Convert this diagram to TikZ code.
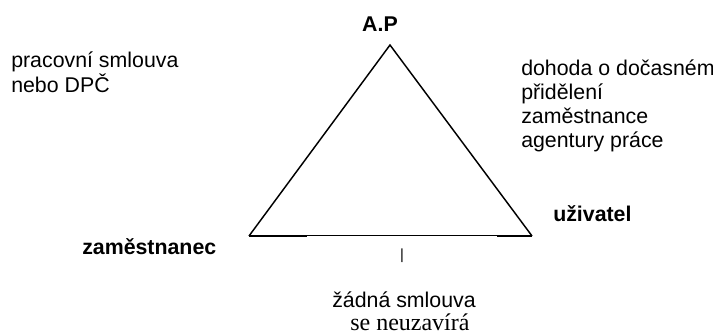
\documentclass[tikz,border=0pt]{standalone}
\usepackage{fontspec}
\setmainfont{Liberation Sans}
\newfontfamily\timesfont{Liberation Serif}
\usepackage{tikz}
\usepackage{xcolor}

\begin{document}
\begin{tikzpicture}[x=0.75pt,y=-0.75pt,
  lbl/.style={inner sep=0pt,align=left,font=\fontsize{16}{18}\selectfont},
  who/.style={inner sep=0pt,font=\fontsize{16}{18}\selectfont\bfseries}]
\useasboundingbox (0,0) rectangle (713,334);
\coordinate (AP) at (390,45); \coordinate (Z) at (249,236); \coordinate (U) at (532,236);
\coordinate (Z1) at (307,236); \coordinate (U1) at (497,236);
\draw[line width=1.1pt] (Z) -- (AP) -- (U);
\draw[line width=0.75pt] (Z) -- (U);
\draw[line width=1.5pt] (Z) -- (Z1); \draw[line width=1.5pt] (U1) -- (U);
\node[who,anchor=base] (ap) at (380,32) {A.P};
\node[who,anchor=base west] (zam) at (82,255) {zaměstnanec};
\node[who,anchor=base west] (uziv) at (553,222) {uživatel};
\node[lbl,anchor=base west,font=\fontsize{16}{19}\selectfont] (pracovni) at (11,93) {pracovní smlouva\\nebo DPČ};
\node[lbl,anchor=base west] (dohoda) at (521,148) {dohoda o dočasném\\přidělení\\zaměstnance\\agentury práce};
\node[inner sep=0pt,font=\fontsize{11}{13}\selectfont] (carka) at (402,256) {|};
\node[lbl,anchor=base west] (zadna) at (332,308) {žádná smlouva};
\node[inner sep=0pt,anchor=base west,font=\fontsize{18}{20}\timesfont] (neuz) at (350,330) {se neuzavírá};
\end{tikzpicture}
\end{document}
